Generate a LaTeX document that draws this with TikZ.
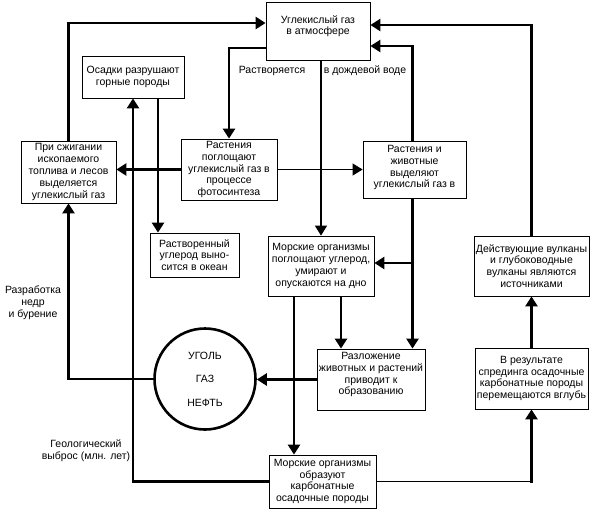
\documentclass[tikz,border=0pt]{standalone}
\usepackage{fontspec}
\setmainfont{Liberation Sans}
\usetikzlibrary{arrows.meta}

\begin{document}
\begin{tikzpicture}[x=1pt,y=-1pt,
                    font=\fontsize{10.5}{11.8}\selectfont,
                    box/.style={draw,line width=0.8pt,align=center,inner sep=1pt},
                    flow/.style={line width=2.6pt,-{Triangle[length=10pt,width=12pt]}},
                    lineflow/.style={line width=1.4pt,-{Triangle[length=10pt,width=12pt]}},
                    thinflow/.style={line width=0.8pt,-{Triangle[length=10pt,width=12pt]}}]

    \useasboundingbox (0,0) rectangle (593,512);

    % Define boxes
    \node[box,minimum width=104,minimum height=58] (atm) at (318,31) {Углекислый газ\\в атмосфере\\};
    \node[box,minimum width=102,minimum height=42] (rocks) at (133,77) {Осадки разрушают\\горные породы};
    \node[box,minimum width=95,minimum height=62] (burn) at (68.5,172) {При сжигании\\ископаемого\\топлива и лесов\\выделяется\\углекислый газ};
    \node[box,minimum width=96,minimum height=61] (photo) at (229,169.5) {Растения\\поглощают\\углекислый газ в\\процессе\\фотосинтеза};
    \node[box,minimum width=103,minimum height=57] (exhale) at (414.5,169.5) {Растения и\\животные\\выделяют\\углекислый газ в\\[-6pt]};
    \node[box,minimum width=89,minimum height=44] (ocean) at (194.5,255) {Растворенный\\углерод выно-\\сится в океан};
    \node[box,minimum width=106,minimum height=60] (sea1) at (321,266) {Морские организмы\\поглощают углерод,\\умирают и\\опускаются на дно};
    \node[box,minimum width=115,minimum height=60] (volc) at (531.5,266) {Действующие вулканы\\и глубоководные\\вулканы являются\\источниками};
    \node[box,minimum width=108,minimum height=61] (decay) at (371,379.5) {Разложение\\животных и растений\\приводит к\\образованию\\};
    \node[box,minimum width=113,minimum height=61] (spread) at (531.5,378.5) {В результате\\спрединга осадочные\\карбонатные породы\\перемещаются вглубь};
    \node[box,minimum width=107,minimum height=53] (sea2) at (322.5,481.5) {Морские организмы\\образуют\\карбонатные\\осадочные породы};
    \node[circle,draw,line width=2.6pt,minimum size=101,align=center] (fuel) at (205,379) {{}\\[-4pt]УГОЛЬ\\[12pt]ГАЗ\\[12pt]НЕФТЬ};

    % Labels
    \node[align=center] (dissolves) at (272,71) {Растворяется};
    \node (rain) at (365,71) {в дождевой воде};
    \node[align=center] (mining) at (33,303) {Разработка\\недр\\и бурение};
    \node[align=center] (uplift) at (86,451) {Геологический\\выброс (млн. лет)};

    % Connectors
    \draw[flow] (burn.north) |- ([yshift=8pt]atm.west);
    \draw[flow] ([yshift=-17pt]atm.west) -| (photo.north);
    \draw[flow] (volc.north) |- ([yshift=6pt]atm.east);
    \draw[flow] ([xshift=-2pt]exhale.north) |- ([yshift=-15pt]atm.east);
    \draw[lineflow] (sea1.north |- atm.south) -- (sea1.north);
    \draw[thinflow] (photo.east) -- (exhale.west);
    \draw[flow] (photo.west) -- (photo.west -| burn.east);
    \draw[flow] (sea2.west) -| (rocks.south);
    \draw[flow] ([xshift=25pt]rocks.south) -- ([xshift=25pt]rocks.south |- ocean.north);
    \draw[flow] (fuel.west) -| (burn.south);
    \draw[flow] (decay.west) -- (decay.west -| fuel.east);
    \draw[flow] ([xshift=20pt]sea1.south) -- ([xshift=20pt]sea1.south |- decay.north);
    \draw[flow] ([xshift=-2pt]exhale.south) -- ([xshift=-2pt]exhale.south |- decay.north);
    \draw[flow] ([xshift=-2pt,yshift=3pt]exhale.south |- sea1.east) -- ([yshift=3pt]sea1.east);
    \draw[flow] ([xshift=-27pt]sea1.south) -- ([xshift=-27pt]sea1.south |- sea2.north);
    \coordinate (turn) at (spread.south |- sea2.east);
    \draw[line width=0.8pt] (sea2.east) -- (turn);
    \draw[flow] ([yshift=-1.3pt]turn) -- (spread.south);
    \draw[flow] (spread.north) -- (volc.south);

\end{tikzpicture}
\end{document}
